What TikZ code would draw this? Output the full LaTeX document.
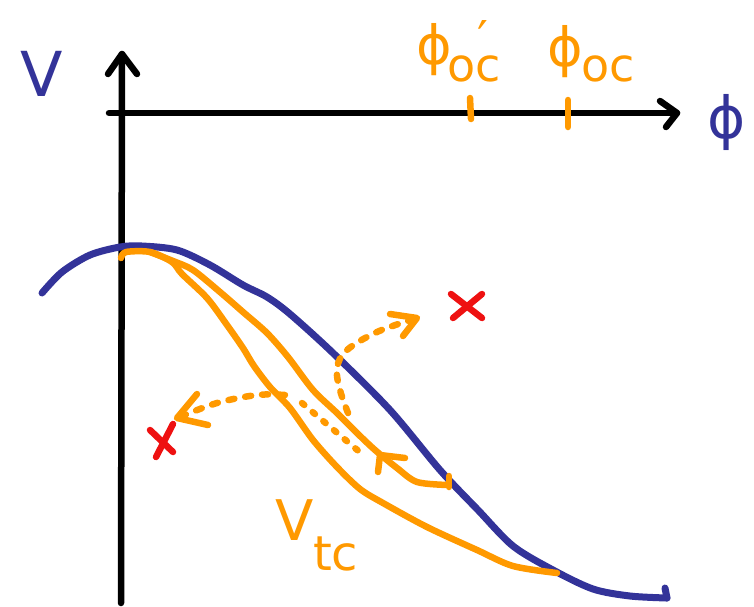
\documentclass[tikz,border=0pt]{standalone}
\usepackage{fontspec}
\setmainfont{DejaVu Sans}
\definecolor{pblue}{HTML}{333399}
\definecolor{porange}{HTML}{FF9900}
\definecolor{pred}{HTML}{EE1111}
\begin{document}
\begin{tikzpicture}[x=1pt,y=-1pt,
  pen/.style={line width=6.5pt,line cap=round,line join=round},
  axis/.style={pen,black},
  bluepen/.style={pen,pblue,line width=7pt},
  orpen/.style={pen,porange},
  redpen/.style={pen,pred},
  dashpen/.style={pen,porange,dash pattern=on 6pt off 11pt},
  dotpen/.style={pen,porange,dash pattern=on 3pt off 11pt},
  lbl/.style={inner sep=0pt,outer sep=0pt}]
\useasboundingbox (0,0) rectangle (754,606);
% axes
\coordinate (yb) at (121,603);
\coordinate (yt) at (122,54);
\coordinate (xl) at (109,113);
\coordinate (xr) at (677,113);
\draw[axis] (yb) -- (yt);
\draw[axis] (108,74) -- (yt) -- (137,74);
\draw[axis] (xl) -- (xr);
\draw[axis] (660,101) -- (xr) -- (666,127);
% ticks
\draw[orpen] (470,98) -- (471,119);
\draw[orpen] (568,100) -- (568,127);
% labels
\node[lbl,text=pblue,font=\fontsize{62}{62}\selectfont] (V) at (42,74) {V};
\node[lbl,text=pblue,font=\fontsize{58}{58}\selectfont] (Phi) at (727,122) {ϕ};
\node[lbl,text=porange,font=\fontsize{54}{54}\selectfont] (p1) at (434,50) {ϕ};
\node[lbl,text=porange,font=\fontsize{46}{46}\selectfont,anchor=base west] (p1s) at (447,81) {oc\llap{\raisebox{26pt}{\fontsize{48}{48}\selectfont ′}\hspace{12pt}}};
\node[lbl,text=porange,font=\fontsize{54}{54}\selectfont] (p2) at (565,52) {ϕ};
\node[lbl,text=porange,font=\fontsize{46}{46}\selectfont,anchor=base west] (p2s) at (581,81) {oc};
\node[lbl,text=porange,font=\fontsize{56}{56}\selectfont] (vt) at (295,520) {V};
\node[lbl,text=porange,font=\fontsize{48}{48}\selectfont,anchor=base west] (vts) at (313,570) {tc};
% blue curve
\draw[bluepen] plot[smooth,tension=0.5] coordinates {(42,293) (62,272) (90,255) (120,247) (142,246) (177,250) (210,265) (243,285) (267,297) (290,314) (333,353) (390,410) (440,470) (478,510) (513,546) (553,570) (593,589) (630,596) (667,598)};
\draw[bluepen] (667,598) -- (665,588);
% orange lower curve
\draw[orpen] plot[smooth,tension=0.5] coordinates {(121,258) (126,252) (150,252) (172,262) (182,274) (207,298) (227,325) (243,348) (254,366) (270,387) (290,408) (313,440) (337,467) (360,489) (383,503) (427,527) (477,550) (513,566) (557,573)};
% orange upper curve
\draw[orpen] plot[smooth,tension=0.5] coordinates {(150,252) (173,261) (193,270) (220,292) (243,312) (267,333) (288,357) (313,390) (337,413) (357,433) (375,450) (397,468) (417,482) (448,485)};
\draw[orpen] (449,476) -- (449,487);
\draw[orpen] (378,472) -- (380,455) -- (405,458);
% dotted straight line
\draw[dotpen] (302,403) -- (362,454);
% left dashed arrow
\draw[dashpen] plot[smooth,tension=0.6] coordinates {(285,395) (257,395) (217,403) (180,417)};
\draw[orpen] (197,394) -- (177,418) -- (208,425);
% upper dashed arrow
\draw[dashpen] plot[smooth,tension=0.6] coordinates {(348,413) (340,390) (337,368) (347,350) (377,332) (414,319)};
\draw[orpen] (390,314) -- (417,318) -- (403,336);
% red crosses
\draw[redpen] (451,294) -- (482,318);
\draw[redpen] (482,294) -- (453,318);
\draw[redpen] (150,430) -- (173,452);
\draw[redpen] (173,424) -- (156,457);
\end{tikzpicture}
\end{document}
